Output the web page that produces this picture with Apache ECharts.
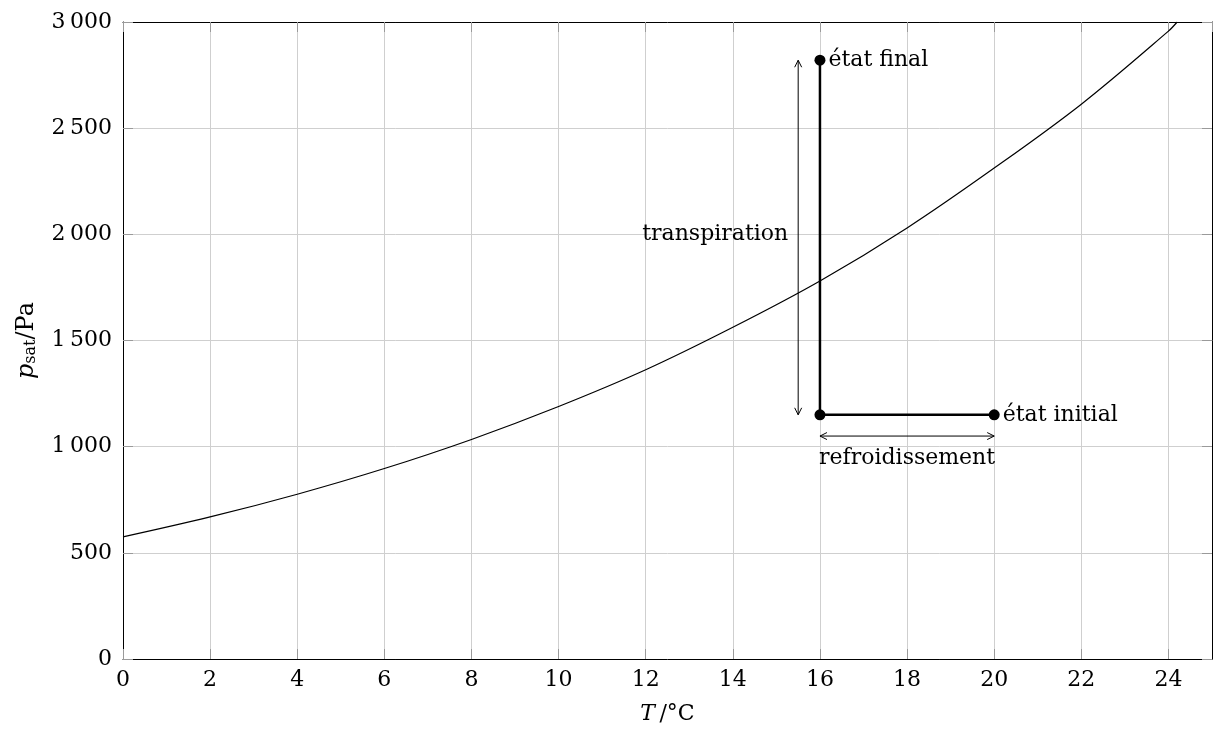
<!DOCTYPE html>
<html>
<head>
<meta charset="utf-8">
<script src="https://cdn.jsdelivr.net/npm/echarts@6/dist/echarts.min.js"></script>
<style>
  html, body { margin: 0; padding: 0; background: #fff; }
  #chart { width: 1213px; height: 734px; }
</style>
</head>
<body>
<div id="chart"></div>
<script>
// Saturation vapour pressure of water (Pa) against temperature (°C)
const tempC = [0, 2, 4, 6, 8, 10, 12, 14, 16, 18, 20, 22, 24, 24.2];
const psatPa = [575, 669, 776, 897, 1034, 1189, 1362, 1562, 1780, 2030, 2312, 2613, 2957, 3000];

// Path of the air: initial state -> cooling -> transpiration -> final state
const stateInitial = [20, 1150];
const stateCorner = [16, 1150];
const stateFinal = [16, 2820];

// Double arrows: [x1, y1, x2, y2]
const arrowTranspiration = [15.5, 1150, 15.5, 2820];
const arrowCooling = [16, 1050, 20, 1050];

// Annotation anchors
const noteTranspiration = [15.5, 2000];
const noteCooling = [18, 945];

const xTicks = { min: 0, max: 25, step: 2 };
const yTicks = { min: 0, max: 3000, step: 500 };

const FONT = '"DejaVu Serif", serif';
const FS = 22;

function fmtThousands(v) {
  if (v >= 1000) {
    const s = String(v);
    return s.slice(0, s.length - 3) + '\u2009' + s.slice(s.length - 3);
  }
  return String(v);
}

const chart = echarts.init(document.getElementById('chart'), null, { renderer: 'canvas' });

const gridLine = { show: true, lineStyle: { color: '#cfcfcf', width: 1 } };
const tickStyle = { show: true, inside: true, length: 10, lineStyle: { color: '#9a9a9a', width: 1 } };
const axisLine = { show: true, onZero: false, lineStyle: { color: '#000', width: 1 } };

function arrowRender(params, api) {
  const p1 = api.coord([api.value(0), api.value(1)]);
  const p2 = api.coord([api.value(2), api.value(3)]);
  const dx = p2[0] - p1[0], dy = p2[1] - p1[1];
  const len = Math.sqrt(dx * dx + dy * dy);
  const ux = dx / len, uy = dy / len;
  const nx = -uy, ny = ux;
  const hl = 7, hw = 3.5;
  function head(tip, dir) {
    const bx = tip[0] - dir * ux * hl, by = tip[1] - dir * uy * hl;
    return [[bx + nx * hw, by + ny * hw], tip, [bx - nx * hw, by - ny * hw]];
  }
  const style = { stroke: '#000', lineWidth: 1, fill: null };
  return {
    type: 'group',
    children: [
      { type: 'line', shape: { x1: p1[0], y1: p1[1], x2: p2[0], y2: p2[1] }, style: style },
      { type: 'polyline', shape: { points: head(p2, 1) }, style: style },
      { type: 'polyline', shape: { points: head(p1, -1) }, style: style }
    ]
  };
}

const noteLabel = { show: true, color: '#000', fontFamily: FONT, fontSize: FS };

const option = {
  backgroundColor: '#fff',
  animation: false,
  textStyle: { fontFamily: FONT },
  grid: { left: 123, right: 1, top: 22, bottom: 75, containLabel: false },
  xAxis: [
    {
      type: 'value', min: xTicks.min, max: xTicks.max, interval: xTicks.step,
      position: 'bottom',
      axisLine: axisLine, axisTick: tickStyle, splitLine: gridLine,
      axisLabel: { color: '#000', fontFamily: FONT, fontSize: FS, margin: 10, showMaxLabel: false },
      name: '{i|T}{n|\u2009/°C}',
      nameLocation: 'middle', nameGap: 44,
      nameTextStyle: {
        rich: {
          i: { fontFamily: FONT, fontSize: FS, fontStyle: 'italic', color: '#000' },
          n: { fontFamily: FONT, fontSize: FS, color: '#000' }
        }
      }
    },
    {
      type: 'value', min: xTicks.min, max: xTicks.max, interval: xTicks.step,
      position: 'top',
      axisLine: axisLine, axisTick: tickStyle, splitLine: { show: false },
      axisLabel: { show: false }
    }
  ],
  yAxis: [
    {
      type: 'value', min: yTicks.min, max: yTicks.max, interval: yTicks.step,
      position: 'left',
      axisLine: axisLine, axisTick: tickStyle, splitLine: gridLine,
      axisLabel: { color: '#000', fontFamily: FONT, fontSize: FS, margin: 11, formatter: fmtThousands },
      name: '{i|p}{s|sat}{n|/Pa}',
      nameLocation: 'middle', nameGap: 84, nameRotate: 90,
      nameTextStyle: {
        rich: {
          i: { fontFamily: FONT, fontSize: 24, fontStyle: 'italic', color: '#000', verticalAlign: 'bottom', lineHeight: 36 },
          s: { fontFamily: FONT, fontSize: 16, color: '#000', verticalAlign: 'bottom', lineHeight: 18 },
          n: { fontFamily: FONT, fontSize: 24, color: '#000', verticalAlign: 'bottom', lineHeight: 36 }
        }
      }
    },
    {
      type: 'value', min: yTicks.min, max: yTicks.max, interval: yTicks.step,
      position: 'right',
      axisLine: axisLine, axisTick: tickStyle, splitLine: { show: false },
      axisLabel: { show: false }
    }
  ],
  series: [
    {
      name: 'psat',
      type: 'line',
      data: tempC.map((t, i) => [t, psatPa[i]]),
      smooth: 0.35,
      showSymbol: false,
      symbol: 'none',
      lineStyle: { color: '#000', width: 1.2 },
      clip: true,
      z: 3
    },
    {
      name: 'path',
      type: 'line',
      data: [
        { value: stateFinal, label: Object.assign({}, noteLabel, { position: 'right', distance: 3, formatter: 'état final' }) },
        { value: stateCorner },
        { value: stateInitial, label: Object.assign({}, noteLabel, { position: 'right', distance: 3, formatter: 'état initial' }) }
      ],
      symbol: 'circle', symbolSize: 11, showSymbol: true,
      itemStyle: { color: '#000' },
      lineStyle: { color: '#000', width: 2.5 },
      label: { show: false },
      z: 5
    },
    {
      name: 'arrows',
      type: 'custom',
      renderItem: arrowRender,
      data: [arrowTranspiration, arrowCooling],
      z: 4
    },
    {
      name: 'notes',
      type: 'scatter',
      symbolSize: 0,
      itemStyle: { color: '#000', opacity: 1 },
      data: [
        { value: noteTranspiration, label: Object.assign({}, noteLabel, { position: 'left', distance: 10, formatter: 'transpiration' }) },
        { value: noteCooling, label: Object.assign({}, noteLabel, { position: 'inside', formatter: 'refroidissement' }) }
      ],
      z: 6
    }
  ]
};

chart.setOption(option);
</script>
</body>
</html>
